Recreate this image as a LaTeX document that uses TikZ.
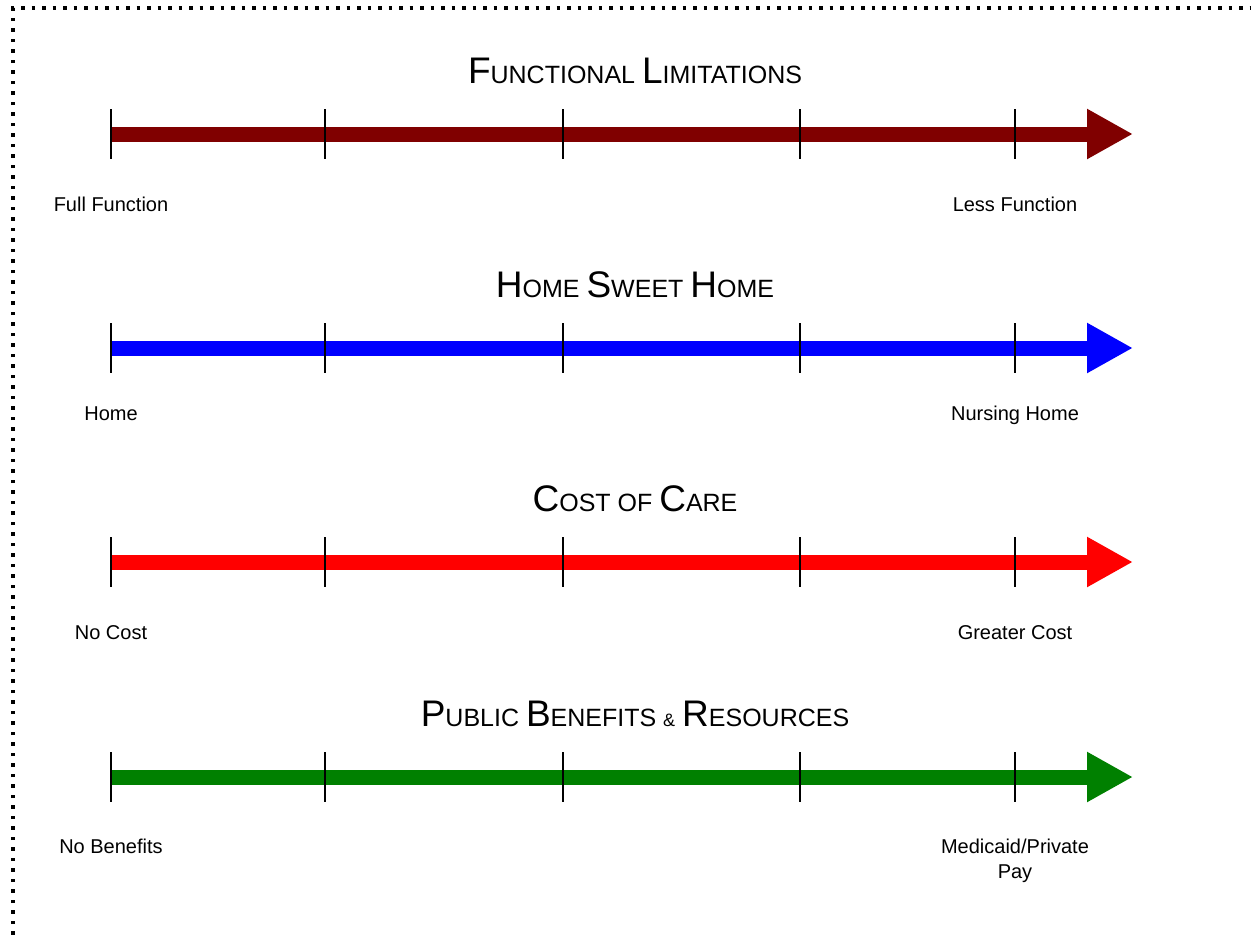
\documentclass[tikz,border=0pt]{standalone}
\usepackage{fontspec}
\setmainfont{Liberation Sans}
\usetikzlibrary{arrows.meta,positioning}

\newcommand{\hcap}[1]{{\fontsize{37}{40}\selectfont #1}}
\newcommand{\amp}{{\fontsize{18}{20}\selectfont \&}}

\definecolor{funccol}{RGB}{128,0,0}
\definecolor{homecol}{RGB}{0,0,255}
\definecolor{costcol}{RGB}{255,0,0}
\definecolor{benecol}{RGB}{0,128,0}

\tikzset{
  band/.style={line width=15pt,-{Triangle[length=46pt,width=47pt]}},
  tick/.style={line width=1.6pt,black},
  title/.style={anchor=base,font=\fontsize{25}{28}\selectfont},
  lbl/.style={anchor=base,align=center,font=\fontsize{20}{25}\selectfont},
  frame/.style={line width=3.5pt,dash pattern=on 3.5pt off 7pt}
}

\begin{document}
\begin{tikzpicture}[x=1pt,y=-1pt]
                        \useasboundingbox (0,0) rectangle (1251,940);
                        \draw[frame] (13,945) -- (13,8) -- (1256,8);
                        % functional limitations
                        \node[title] (functitle) at (635,83) {\hcap{F}UNCTIONAL \hcap{L}IMITATIONS};
                        \coordinate (funcs) at (111,134);
                        \coordinate (funce) at (1133,134);
                        \draw[band,funccol] (funcs) -- (funce);
                        \node[lbl] (full) at (111,211) {Full Function};
                        \node[lbl] (less) at (1015,211) {Less Function};
                        % home sweet home
                        \node[title] (hometitle) at (635,297) {\hcap{H}OME \hcap{S}WEET \hcap{H}OME};
                        \coordinate (homes) at (111,348);
                        \coordinate (homee) at (1133,348);
                        \draw[band,homecol] (homes) -- (homee);
                        \node[lbl] (home) at (111,420) {Home};
                        \node[lbl] (nursing) at (1015,420) {Nursing Home};
                        % cost of care
                        \node[title] (costtitle) at (635,511) {\hcap{C}OST OF \hcap{C}ARE};
                        \coordinate (costs) at (111,562);
                        \coordinate (coste) at (1133,562);
                        \draw[band,costcol] (costs) -- (coste);
                        \node[lbl] (nocost) at (111,639) {No Cost};
                        \node[lbl] (greater) at (1015,639) {Greater Cost};
                        % public benefits
                        \node[title] (benetitle) at (635,726) {\hcap{P}UBLIC \hcap{B}ENEFITS \amp{} \hcap{R}ESOURCES};
                        \coordinate (benes) at (111,777);
                        \coordinate (benee) at (1133,777);
                        \draw[band,benecol] (benes) -- (benee);
                        \node[lbl] (nobene) at (111,853) {No Benefits};
                        \node[lbl] (medicaid) at (1015,878) {Medicaid/Private\\Pay};
                        % ticks
                        \foreach \y in {134,348,562,777}
                            \foreach \x in {111,325,563,800,1015}
                                \draw[tick] (\x,\y-25) -- (\x,\y+25);
                    \end{tikzpicture}
\end{document}
